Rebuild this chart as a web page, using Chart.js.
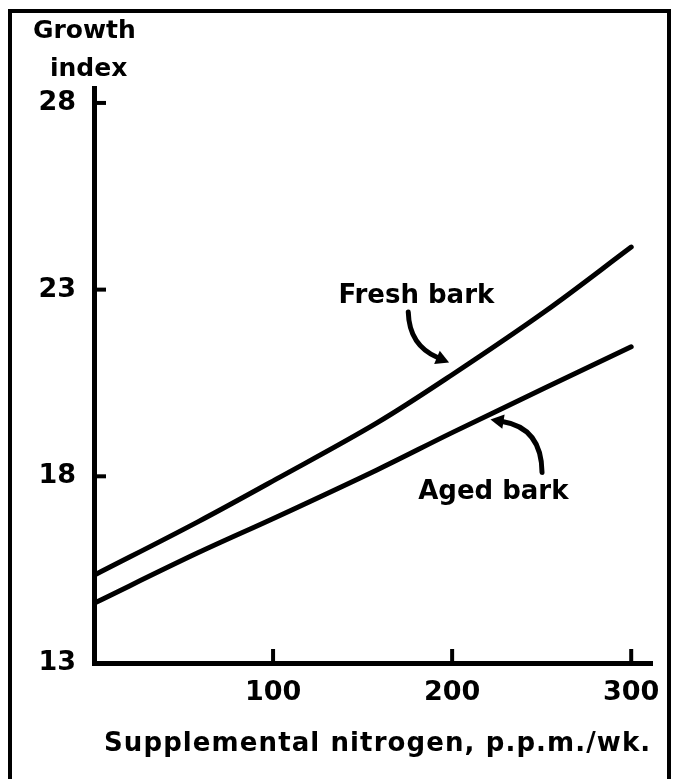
<!DOCTYPE html>
<html>
<head>
<meta charset="utf-8">
<script src="https://cdn.jsdelivr.net/npm/chart.js@4.4.1/dist/chart.umd.min.js"></script>
<style>
  html, body { margin: 0; padding: 0; background: #fff; }
  #wrap { position: relative; width: 674px; height: 779px; overflow: hidden; }
  #frame { position: absolute; left: 8px; top: 9px; width: 663px; height: 820px; border: 4px solid #000; box-sizing: border-box; }
  canvas { position: absolute; left: 0; top: 0; }
  .t { position: absolute; font-family: "DejaVu Sans", sans-serif; font-weight: bold; color: #000; white-space: nowrap; }
</style>
</head>
<body>
<div id="wrap">
  <div id="frame"></div>
  <canvas id="c" width="674" height="779"></canvas>
  <div class="t" style="left:33px; top:15px; font-size:25px; line-height:30px;">Growth</div>
  <div class="t" style="left:50px; top:53px; font-size:25px; line-height:30px;">index</div>
  <div class="t" id="xt" style="left:104px; top:727px; font-size:26px; line-height:30px; letter-spacing:1.1px;">Supplemental nitrogen, p.p.m./wk.</div>
</div>
<script>
// ---- data ----
const nitrogen = [0, 58, 102, 158, 200, 252, 300];
const freshBark = [15.35, 16.78, 17.93, 19.43, 20.72, 22.42, 24.14];
const agedBark  = [14.6, 15.95, 16.91, 18.17, 19.17, 20.37, 21.47];
const xTicks = [100, 200, 300];
const yTicks = [13, 18, 23, 28];
const seriesNames = ["Fresh bark", "Aged bark"];

const toPts = (xs, ys) => xs.map((x, i) => ({ x: x, y: ys[i] }));

// annotations in data coordinates
const annotations = [
  { text: seriesNames[0], tx: 180, ty: 22.82,
    arrow: { from: [175.5, 22.4], ctrl: [176.0, 21.5], to: [198.3, 21.05] } },
  { text: seriesNames[1], tx: 223, ty: 17.58,
    arrow: { from: [250.2, 18.1], ctrl: [250.0, 19.3], to: [221.4, 19.52] } }
];

const FONT = '"DejaVu Sans", sans-serif';

const decor = {
  id: 'decor',
  afterDraw(chart) {
    const ctx = chart.ctx;
    const xs = chart.scales.x, ys = chart.scales.y;
    ctx.save();
    ctx.strokeStyle = '#000';
    ctx.fillStyle = '#000';
    ctx.lineWidth = 4;
    ctx.lineCap = 'butt';
    const y0 = ys.getPixelForValue(ys.min);
    const x0 = xs.getPixelForValue(xs.min);
    xTicks.forEach(v => {
      const px = xs.getPixelForValue(v);
      ctx.beginPath(); ctx.moveTo(px, y0); ctx.lineTo(px, y0 - 14); ctx.stroke();
    });
    yTicks.forEach(v => {
      if (v === ys.min) return;
      const py = ys.getPixelForValue(v);
      ctx.beginPath(); ctx.moveTo(x0, py); ctx.lineTo(x0 + 12, py); ctx.stroke();
    });
    annotations.forEach(a => {
      ctx.font = 'bold 26px ' + FONT;
      ctx.textAlign = 'center';
      ctx.textBaseline = 'middle';
      ctx.fillText(a.text, xs.getPixelForValue(a.tx), ys.getPixelForValue(a.ty));
      const P = p => [xs.getPixelForValue(p[0]), ys.getPixelForValue(p[1])];
      const f = P(a.arrow.from), c = P(a.arrow.ctrl), t = P(a.arrow.to);
      const ang = Math.atan2(t[1] - c[1], t[0] - c[0]);
      const hl = 15;
      const e = [t[0] - Math.cos(ang) * hl * 0.8, t[1] - Math.sin(ang) * hl * 0.8];
      ctx.lineWidth = 5;
      ctx.lineCap = 'round';
      ctx.beginPath(); ctx.moveTo(f[0], f[1]); ctx.quadraticCurveTo(c[0], c[1], e[0], e[1]); ctx.stroke();
      ctx.beginPath();
      ctx.moveTo(t[0], t[1]);
      ctx.lineTo(t[0] - Math.cos(ang - 0.5) * hl, t[1] - Math.sin(ang - 0.5) * hl);
      ctx.lineTo(t[0] - Math.cos(ang + 0.5) * hl, t[1] - Math.sin(ang + 0.5) * hl);
      ctx.closePath(); ctx.fill();
    });
    ctx.restore();
  }
};

new Chart(document.getElementById('c'), {
  type: 'line',
  data: {
    datasets: [
      { label: seriesNames[0], data: toPts(nitrogen, freshBark), borderColor: '#000', borderWidth: 5,
        pointRadius: 0, tension: 0.35, fill: false, borderCapStyle: 'round' },
      { label: seriesNames[1], data: toPts(nitrogen, agedBark), borderColor: '#000', borderWidth: 5,
        pointRadius: 0, tension: 0.35, fill: false, borderCapStyle: 'round' }
    ]
  },
  options: {
    responsive: false,
    animation: false,
    devicePixelRatio: 1,
    layout: { padding: { left: 0, right: 16, top: 88, bottom: 0 } },
    plugins: { legend: { display: false }, tooltip: { enabled: false } },
    scales: {
      x: {
        type: 'linear', min: 0, max: 312,
        afterBuildTicks: s => { s.ticks = xTicks.map(v => ({ value: v })); },
        afterFit: s => { s.height = 116; },
        grid: { display: false, drawTicks: false },
        border: { display: true, width: 5, color: '#000' },
        ticks: { color: '#000', padding: 14, font: { family: FONT, weight: 'bold', size: 27 } }
      },
      y: {
        type: 'linear', min: 13, max: 28.4,
        afterBuildTicks: s => { s.ticks = yTicks.map(v => ({ value: v })); },
        afterFit: s => { s.width = 94; },
        grid: { display: false, drawTicks: false },
        border: { display: true, width: 5, color: '#000' },
        ticks: { color: '#000', padding: 18, font: { family: FONT, weight: 'bold', size: 27 } }
      }
    }
  },
  plugins: [decor]
});
</script>
</body>
</html>
